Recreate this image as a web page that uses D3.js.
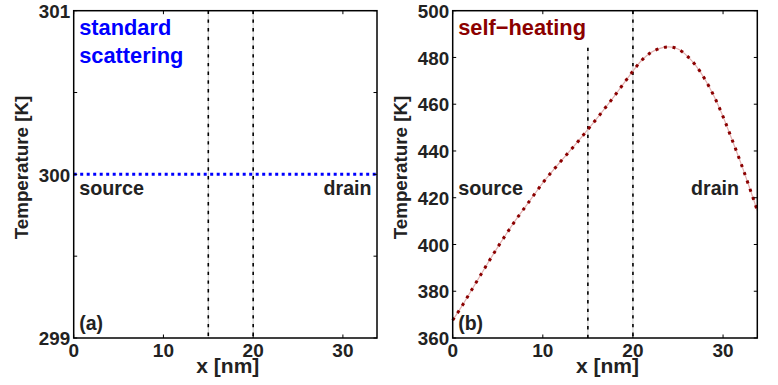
<!DOCTYPE html>
<html>
<head>
<meta charset="utf-8">
<script src="https://cdn.jsdelivr.net/npm/d3@7"></script>
<style>
  html, body { margin: 0; padding: 0; background: #fff; }
  svg { display: block; }
  text { font-family: "Liberation Sans", Arial, Helvetica, sans-serif; font-weight: bold; }
</style>
</head>
<body>
<svg id="chart" width="778" height="385"></svg>
<script>
// ---------- data ----------
const xDomain = [0, 33.8];
const xTicks = [0, 10, 20, 30];
const channelEdges = [15, 20];              // vertical dash-dot lines (nm)

// panel (a): standard scattering
const aYDomain = [299, 301];
const aYTicks = [299, 299.5, 300, 300.5, 301];
const aYTickLabels = ["299", "", "300", "", "301"];
const aX = [0, 33.8];
const aT = [300, 300];

// panel (b): self-heating
const bYDomain = [360, 500];
const bYTicks = [360, 380, 400, 420, 440, 460, 480, 500];
const bX = [0, 1, 2, 3, 4, 5, 6, 7, 8, 9, 10, 11, 12, 13, 14, 15, 16, 17, 18, 19, 20,
            21, 22, 23, 24, 25, 26, 27, 28, 29, 30, 31, 32, 33, 33.8];
const bT = [367.6, 373.5, 379.9, 386.3, 392.7, 398.9, 404.8, 410.5, 415.8, 421.1, 426.4,
            431.1, 435.6, 440.0, 444.5, 449.2, 453.9, 458.8, 463.8, 469.0, 474.2,
            478.9, 482.1, 483.9, 484.5, 483.6, 480.7, 476.4, 470.6, 463.4, 454.7,
            444.8, 434.6, 423.6, 414.5];

// ---------- drawing ----------
const svg = d3.select("#chart");
const textColor = "#222";

function panel(opts) {
  const { left, right, top, bottom, yDomain, yTicks, yLabels } = opts;
  const x = d3.scaleLinear().domain(xDomain).range([left, right]);
  const y = d3.scaleLinear().domain(yDomain).range([bottom, top]);
  const g = svg.append("g");

  // vertical dash-dot lines
  channelEdges.forEach((e, i) => {
    const y0 = (opts.edgeTop && opts.edgeTop[i] != null) ? opts.edgeTop[i] : top;
    g.append("line").attr("x1", x(e)).attr("x2", x(e)).attr("y1", y0).attr("y2", bottom)
      .attr("stroke", "#c8c8c8").attr("stroke-width", 1);
    g.append("line").attr("x1", x(e)).attr("x2", x(e)).attr("y1", y0).attr("y2", bottom)
      .attr("stroke", "#000").attr("stroke-width", 1.6).attr("stroke-dasharray", "3.4,5.3");
  });

  // data line
  opts.drawData(g, x, y);

  // box
  g.append("rect").attr("x", left).attr("y", top).attr("width", right - left).attr("height", bottom - top)
    .attr("fill", "none").attr("stroke", "#000").attr("stroke-width", 1.5);

  // ticks (inward, mirrored)
  const tl = 3.5;
  xTicks.forEach(t => {
    g.append("line").attr("x1", x(t)).attr("x2", x(t)).attr("y1", bottom).attr("y2", bottom - tl).attr("stroke", "#000");
    g.append("line").attr("x1", x(t)).attr("x2", x(t)).attr("y1", top).attr("y2", top + tl).attr("stroke", "#000");
    g.append("text").attr("x", x(t)).attr("y", 357).attr("text-anchor", "middle")
      .attr("font-size", 19).attr("fill", textColor).text(t);
  });
  yTicks.forEach((t, i) => {
    g.append("line").attr("x1", left).attr("x2", left + tl).attr("y1", y(t)).attr("y2", y(t)).attr("stroke", "#000");
    g.append("line").attr("x1", right).attr("x2", right - tl).attr("y1", y(t)).attr("y2", y(t)).attr("stroke", "#000");
    const lab = yLabels ? yLabels[i] : String(t);
    if (lab) {
      g.append("text").attr("x", left - 3.5).attr("y", y(t) + 7.2).attr("text-anchor", "end")
        .attr("font-size", 18.8).attr("fill", textColor).text(lab);
    }
  });

  // axis titles
  g.append("text").attr("x", (left + right) / 2 + 2.5).attr("y", 373).attr("text-anchor", "middle")
    .attr("font-size", 21).attr("fill", textColor).text("x [nm]");
  g.append("text").attr("transform", `translate(${opts.yTitleX},167.5) rotate(-90)`)
    .attr("text-anchor", "middle").attr("font-size", 18.8).attr("fill", textColor).text("Temperature [K]");

  // annotations
  g.append("text").attr("x", left + 5.5).attr("y", 195).attr("font-size", 19.8).attr("fill", textColor).text("source");
  g.append("text").attr("x", opts.drainRight).attr("y", 195).attr("text-anchor", "end")
    .attr("font-size", 19.6).attr("fill", textColor).text("drain");
  g.append("text").attr("x", left + 5.5).attr("y", 329.5).attr("font-size", 19.5).attr("fill", textColor).text(opts.tag);
  opts.titleLines.forEach((s, i) => {
    g.append("text").attr("x", left + 5.5).attr("y", 35 + i * 28.3).attr("font-size", 21.8)
      .attr("fill", opts.titleColor).text(s);
  });
}

panel({
  left: 73.7, right: 377, top: 10.7, bottom: 338,
  yDomain: aYDomain, yTicks: aYTicks, yLabels: aYTickLabels,
  yTitleX: 27.5, drainRight: 371.5, tag: "(a)",
  titleLines: ["standard", "scattering"], titleColor: "#0000ff",
  drawData: (g, x, y) => {
    const line = d3.line().x((d, i) => x(aX[i])).y((d, i) => y(aT[i]));
    g.append("path").datum(aT).attr("d", line).attr("fill", "none")
      .attr("stroke", "#0000ff").attr("stroke-width", 3).attr("stroke-dasharray", "3,3.5");
  }
});

panel({
  left: 452.7, right: 757.3, top: 10.7, bottom: 338,
  yDomain: bYDomain, yTicks: bYTicks, yLabels: null,
  yTitleX: 407, drainRight: 739, tag: "(b)",
  edgeTop: [47.7, null],
  titleLines: ["self\u2212heating"], titleColor: "#8b0000",
  drawData: (g, x, y) => {
    const line = d3.line().curve(d3.curveMonotoneX).x((d, i) => x(bX[i])).y((d, i) => y(bT[i]));
    g.append("path").datum(bT).attr("d", line).attr("fill", "none")
      .attr("stroke", "#e2b0b0").attr("stroke-width", 1.2);
    g.append("path").datum(bT).attr("d", line).attr("fill", "none")
      .attr("stroke", "#8b0000").attr("stroke-width", 3).attr("stroke-dasharray", "3,5.7");
  }
});
</script>
</body>
</html>
